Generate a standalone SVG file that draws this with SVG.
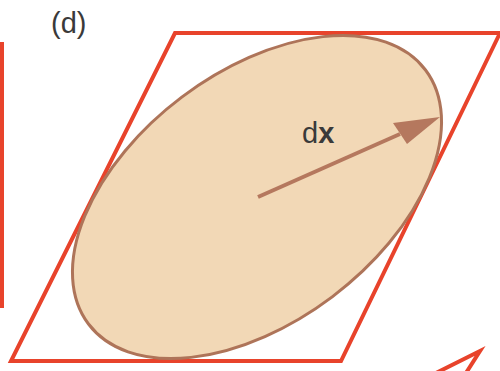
<svg xmlns="http://www.w3.org/2000/svg" width="500" height="371" viewBox="0 0 500 371">
<defs>
<style>
.red{fill:none;stroke:#E8432B;stroke-width:4;stroke-linejoin:miter}
.lbl{font-family:"Liberation Sans",Arial,sans-serif;font-size:29px;fill:#3a3a3a}
</style>
</defs>
<rect width="500" height="371" fill="#fff"/>
<g id="left-edge"><line class="red" x1="2" y1="42" x2="2" y2="308"/></g>
<g id="parallelogram"><polygon class="red" points="175,33 500,33 341,361 11,361"/></g>
<g id="ellipse"><ellipse cx="257" cy="197" rx="211" ry="125" transform="rotate(-37 257 197)" fill="#F2D8B6" stroke="#AE7459" stroke-width="3"/></g>
<g id="connectors">
<line x1="258" y1="197" x2="400" y2="134" stroke="#B5785E" stroke-width="4"/>
<polygon points="440,117 393,123 407,144" fill="#B5785E"/>
</g>
<g id="partial"><polyline class="red" points="436,373 480,351 466,373"/></g>
<text class="lbl" x="51" y="33">(d)</text>
<text class="lbl" x="302" y="143">d<tspan font-weight="bold">x</tspan></text>
</svg>
